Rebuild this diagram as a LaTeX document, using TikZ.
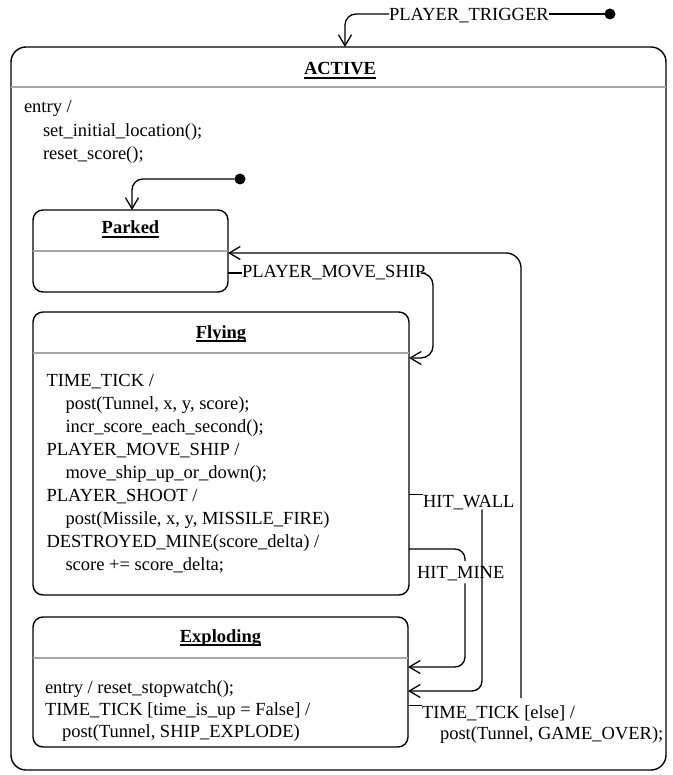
\documentclass[tikz,border=0pt]{standalone}
\usepackage{fontspec}
\setmainfont{Liberation Serif}
\usetikzlibrary{arrows.meta,calc}
\newcommand\ttlul[1]{\setbox0\hbox{#1}\rlap{\rule[-3.6pt]{\wd0}{1.5pt}}\box0}
\begin{document}
\begin{tikzpicture}[x=1pt,y=-1pt,
  every node/.style={inner sep=0pt,outer sep=0pt},
  txt/.style={font=\fontsize{18.5}{22}\selectfont, anchor=base west},
  ttl/.style={font=\bfseries\fontsize{18.5}{22}\selectfont, anchor=base},
  statebox/.style={draw, line width=1.4pt, rounded corners=10pt},
  sepline/.style={draw=gray!70, line width=2.8pt},
  conn/.style={line width=1.3pt},
  arr/.style={conn, -{Straight Barb[length=11pt,width=13pt]}},
  initdot/.style={circle, fill=black, minimum size=11pt}]
\useasboundingbox (0,0) rectangle (672,775);

% ---------- ACTIVE ----------
\node[statebox, rounded corners=15pt, minimum width=655pt, minimum height=723pt] (active) at (338.5,408.5) {};
\node[ttl] (activet) at (340,75) {\ttlul{ACTIVE}};
\draw[sepline] (active.west |- 0,87) -- (active.east |- 0,87);
\node[txt] (e1) at (24,113) {entry /};
\node[txt] (e2) at (43,137) {set\_initial\_location();};
\node[txt] (e3) at (43,160) {reset\_score();};

% ---------- Parked ----------
\node[statebox, minimum width=195pt, minimum height=82pt] (parked) at (130.5,251) {};
\node[ttl] (parkedt) at (130.5,234) {\ttlul{Parked}};
\draw[sepline] (parked.west |- 0,251) -- (parked.east |- 0,251);

% ---------- Flying ----------
\node[statebox, minimum width=376pt, minimum height=283pt] (flying) at (221,453.5) {};
\node[ttl] (flyingt) at (221,338) {\ttlul{Flying}};
\draw[sepline] (flying.west |- 0,353) -- (flying.east |- 0,353);
\node[txt] (f1) at (46.5,386) {TIME\_TICK /};
\node[txt] (f2) at (65.5,409) {post(Tunnel, x, y, score);};
\node[txt] (f3) at (65.5,432) {incr\_score\_each\_second();};
\node[txt] (f4) at (46.5,455) {PLAYER\_MOVE\_SHIP /};
\node[txt] (f5) at (65.5,478) {move\_ship\_up\_or\_down();};
\node[txt] (f6) at (46.5,501) {PLAYER\_SHOOT /};
\node[txt] (f7) at (65.5,524) {post(Missile, x, y, MISSILE\_FIRE)};
\node[txt] (f8) at (46.5,547) {DESTROYED\_MINE(score\_delta) /};
\node[txt] (f9) at (65.5,570) {score += score\_delta;};

% ---------- Exploding ----------
\node[statebox, minimum width=375pt, minimum height=130pt] (exploding) at (220.5,682) {};
\node[ttl] (explodingt) at (220.5,642) {\ttlul{Exploding}};
\draw[sepline] (exploding.west |- 0,658) -- (exploding.east |- 0,658);
\node[txt] (x1) at (45,693) {entry / reset\_stopwatch();};
\node[txt] (x2) at (45,715) {TIME\_TICK [time\_is\_up = False] /};
\node[txt] (x3) at (62,737) {post(Tunnel, SHIP\_EXPLODE)};

% ---------- top initial transition ----------
\node[initdot] (i0) at (610,14) {};
\node[txt] (lt) at (389,21) {PLAYER\_TRIGGER};
\coordinate (ta) at (345,14);
\draw[conn] (i0) -- (lt.east |- i0);
\draw[arr, rounded corners=11pt] (lt.west |- i0) -- (ta) -- (ta |- active.north);

% ---------- inner initial transition ----------
\node[initdot] (i1) at (240,179) {};
\coordinate (tp) at (132,179);
\draw[arr, rounded corners=11pt] (i1) -- (tp) -- (tp |- parked.north);

% ---------- PLAYER_MOVE_SHIP ----------
\node[txt, anchor=west] (lm) at (242,273) {PLAYER\_MOVE\_SHIP};
\coordinate (c1) at (433,358);
\draw[conn] (parked.east |- lm.west) -- (lm.west);
\draw[arr, rounded corners=12pt] (lm.east) -- (lm.east -| c1) -- (c1) -- (c1 -| flying.east);

% ---------- HIT_WALL ----------
\node[txt] (lw) at (423,507) {HIT\_WALL};
\coordinate (hw) at (482,691);
\draw[conn] (lw.north west -| flying.east) -- (lw.north west);
\draw[arr, rounded corners=10pt] (lw.south -| hw) -- (hw) -- (hw -| exploding.east);

% ---------- HIT_MINE ----------
\node[txt] (lmi) at (417,578) {HIT\_MINE};
\coordinate (hm1) at (465,549);
\coordinate (hm2) at (465,667);
\draw[conn, rounded corners=10pt] (flying.east |- hm1) -- (hm1) -- ([yshift=5pt]hm1 |- lmi.north);
\draw[arr, rounded corners=10pt] ([yshift=-3pt]lmi.south -| hm2) -- (hm2) -- (hm2 -| exploding.east);

% ---------- TIME_TICK [else] ----------
\node[txt] (lt1) at (422,718) {TIME\_TICK [else] /};
\node[txt] (lt2) at (440,739) {post(Tunnel, GAME\_OVER);};
\coordinate (bv) at (521,253);
\draw[conn] (lt1.north west -| exploding.east) -- (lt1.north west);
\draw[arr, rounded corners=15pt] ([yshift=7pt]lt1.north -| bv) -- (bv) -- (bv -| parked.east);
\end{tikzpicture}
\end{document}
